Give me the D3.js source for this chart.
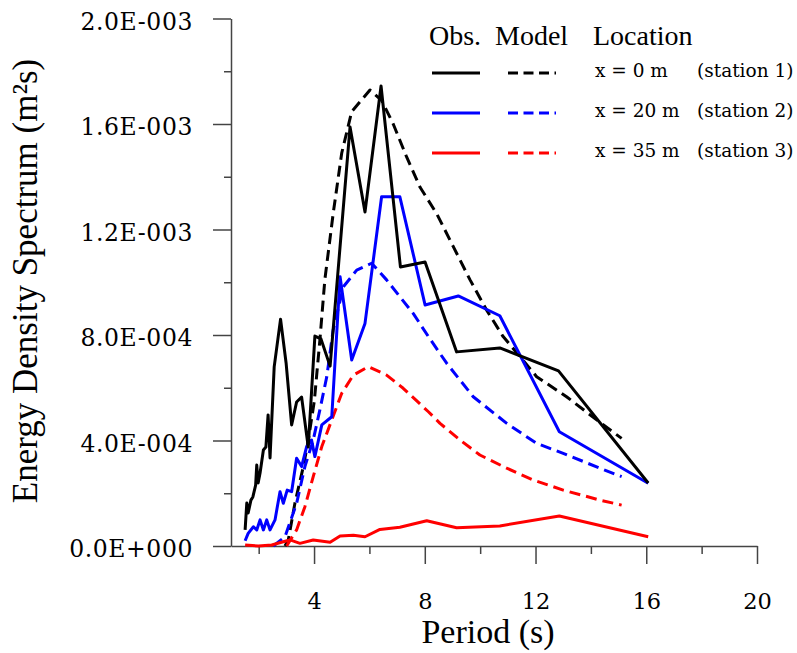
<!DOCTYPE html>
<html>
<head>
<meta charset="utf-8">
<script src="https://d3js.org/d3.v7.min.js"></script>
<style>
  html, body { margin: 0; padding: 0; background: #fff; }
  svg { display: block; }
</style>
</head>
<body>
<svg id="chart" width="797" height="653"></svg>
<script>
// ---------- data (period [s], energy density [m^2 s]) ----------
const obs1 = [
  [1.51, 0.61e-4], [1.57, 1.63e-4], [1.62, 1.25e-4], [1.72, 1.74e-4], [1.79, 1.86e-4],
  [1.89, 2.31e-4], [1.93, 3.07e-4], [1.98, 2.39e-4], [2.05, 2.77e-4], [2.17, 3.64e-4],
  [2.26, 3.75e-4], [2.34, 4.97e-4], [2.41, 3.34e-4], [2.56, 6.79e-4], [2.79, 8.6e-4],
  [2.99, 6.94e-4], [3.19, 4.59e-4], [3.37, 5.46e-4], [3.55, 5.65e-4], [3.79, 3.75e-4],
  [4.03, 7.96e-4], [4.25, 7.85e-4], [4.58, 6.82e-4], [5.30, 1.589e-3], [5.84, 1.266e-3],
  [6.42, 1.744e-3], [7.12, 1.058e-3], [8.01, 1.077e-3], [9.15, 7.36e-4], [10.71, 7.51e-4],
  [12.83, 6.64e-4], [16.07, 2.39e-4]
];
const model1 = [
  [2.95, 0], [3.07, 0.23e-4], [3.31, 1.63e-4], [3.61, 3.0e-4], [3.79, 4.0e-4],
  [4.01, 5.5e-4], [4.21, 7.8e-4], [4.39, 1.01e-3], [4.69, 1.26e-3], [5.0, 1.49e-3],
  [5.36, 1.647e-3], [6.02, 1.729e-3], [6.44, 1.69e-3], [6.86, 1.60e-3], [7.34, 1.476e-3],
  [7.83, 1.36e-3], [8.43, 1.26e-3], [9.03, 1.135e-3], [9.63, 1.01e-3], [10.23, 8.95e-4],
  [10.83, 7.94e-4], [11.44, 7.18e-4], [12.04, 6.42e-4], [13.12, 5.66e-4], [14.21, 4.78e-4],
  [15.11, 4.08e-4]
];
const obs2 = [
  [1.51, 0.20e-4], [1.62, 0.48e-4], [1.81, 0.73e-4], [1.93, 0.61e-4], [2.05, 0.99e-4],
  [2.17, 0.61e-4], [2.29, 0.99e-4], [2.41, 0.61e-4], [2.59, 0.99e-4], [2.77, 2.06e-4],
  [2.89, 1.62e-4], [3.03, 2.12e-4], [3.19, 2.06e-4], [3.37, 3.33e-4], [3.55, 3.01e-4],
  [3.73, 3.76e-4], [3.91, 4.02e-4], [4.03, 3.39e-4], [4.28, 4.59e-4], [4.64, 4.90e-4],
  [4.94, 1.021e-3], [5.36, 7.05e-4], [5.84, 8.44e-4], [6.44, 1.324e-3], [7.10, 1.324e-3],
  [8.01, 9.14e-4], [9.21, 9.48e-4], [10.71, 8.73e-4], [12.86, 4.33e-4], [16.07, 2.38e-4]
];
const model2 = [
  [2.53, 0], [2.95, 0.35e-4], [3.37, 1.62e-4], [3.67, 3.01e-4], [3.97, 4.02e-4],
  [4.21, 5.16e-4], [4.46, 6.42e-4], [4.69, 8.19e-4], [5.06, 9.83e-4], [5.54, 1.046e-3],
  [6.08, 1.072e-3], [6.62, 1.009e-3], [7.10, 9.45e-4], [7.58, 8.82e-4], [8.13, 7.94e-4],
  [8.79, 6.93e-4], [9.75, 5.66e-4], [10.96, 4.65e-4], [12.04, 3.89e-4], [13.0, 3.51e-4],
  [14.33, 2.95e-4], [15.11, 2.63e-4]
];
const obs3 = [
  [1.51, 0.04e-4], [1.99, 0], [2.47, 0.04e-4], [2.89, 0.16e-4], [3.13, 0.23e-4],
  [3.49, 0.10e-4], [3.97, 0.23e-4], [4.58, 0.14e-4], [4.94, 0.38e-4], [5.42, 0.41e-4],
  [5.84, 0.35e-4], [6.38, 0.63e-4], [7.10, 0.71e-4], [8.07, 0.96e-4], [9.15, 0.69e-4],
  [10.71, 0.76e-4], [12.86, 1.14e-4], [16.07, 0.35e-4]
];
const model3 = [
  [3.01, 0], [3.37, 0.61e-4], [3.67, 1.49e-4], [3.97, 2.63e-4], [4.28, 3.77e-4],
  [4.64, 4.78e-4], [5.0, 5.79e-4], [5.42, 6.48e-4], [5.96, 6.80e-4], [6.62, 6.48e-4],
  [7.22, 5.98e-4], [8.13, 5.09e-4], [8.55, 4.65e-4], [9.27, 4.02e-4], [9.99, 3.45e-4],
  [10.96, 2.95e-4], [11.92, 2.50e-4], [13.0, 2.12e-4], [14.33, 1.74e-4], [15.11, 1.55e-4]
];

const xMajorTicks = [4, 8, 12, 16, 20];
const xMinorTicks = [2, 6, 10, 14, 18];
const yMajorTicks = [0, 0.4e-3, 0.8e-3, 1.2e-3, 1.6e-3, 2.0e-3];
const yMinorTicks = [0.2e-3, 0.6e-3, 1.0e-3, 1.4e-3, 1.8e-3];
const yTickLabels = ["0.0E+000", "4.0E-004", "8.0E-004", "1.2E-003", "1.6E-003", "2.0E-003"];

const stations = ["x = 0 m", "x = 20 m", "x = 35 m"];
const stationNames = ["(station 1)", "(station 2)", "(station 3)"];
const colors = ["#000000", "#0000ff", "#ff0000"];

// ---------- drawing ----------
const svg = d3.select("#chart");
const x = d3.scaleLinear().domain([1, 20]).range([231, 757]);
const y = d3.scaleLinear().domain([0, 2e-3]).range([546, 18.5]);

const axisColor = "#444";
const tickFont = "'DejaVu Serif', serif";

// X axis
const gx = svg.append("g").attr("transform", `translate(0,${y(0)})`);
gx.call(d3.axisBottom(x).tickValues(xMinorTicks).tickSize(8).tickSizeOuter(0).tickFormat(""));
gx.call(g => g.select(".domain").remove());
const gx2 = svg.append("g").attr("transform", `translate(0,${y(0)})`);
gx2.call(d3.axisBottom(x).tickValues(xMajorTicks).tickSize(18).tickSizeOuter(0).tickPadding(29)
  .tickFormat(d3.format("d")));
[gx, gx2].forEach(g => {
  g.selectAll("line").attr("stroke", axisColor).attr("stroke-width", 1.5);
  g.selectAll("path").attr("stroke", axisColor).attr("stroke-width", 1.5);
  g.selectAll("text").attr("font-family", tickFont).attr("font-size", 22.5).attr("fill", "#000");
});

// Y axis
const gy = svg.append("g").attr("transform", `translate(${x(1)},0)`);
gy.call(d3.axisLeft(y).tickValues(yMinorTicks).tickSize(7).tickSizeOuter(0).tickFormat(""));
gy.call(g => g.select(".domain").remove());
const gy2 = svg.append("g").attr("transform", `translate(${x(1)},0)`);
gy2.call(d3.axisLeft(y).tickValues(yMajorTicks).tickSize(18).tickSizeOuter(0).tickPadding(20)
  .tickFormat((d, i) => yTickLabels[i]));
[gy, gy2].forEach(g => {
  g.selectAll("line").attr("stroke", axisColor).attr("stroke-width", 1.5);
  g.selectAll("path").attr("stroke", axisColor).attr("stroke-width", 1.5);
  g.selectAll("text").attr("font-family", tickFont).attr("font-size", 23.5)
    .attr("letter-spacing", 0.6).attr("dy", "0.45em").attr("fill", "#000");
});

// Axis titles
svg.append("text")
  .attr("x", 488).attr("y", 643)
  .attr("text-anchor", "middle")
  .attr("font-family", "'Liberation Serif', serif").attr("font-size", 34)
  .text("Period (s)");
svg.append("text")
  .attr("transform", "translate(37,281) rotate(-90)")
  .attr("text-anchor", "middle")
  .attr("font-family", "'Liberation Serif', serif").attr("font-size", 35)
  .text("Energy Density Spectrum (m²s)");

// Lines
const line = d3.line().x(d => x(d[0])).y(d => y(d[1]));
const series = [
  { data: model1, color: colors[0], dash: true },
  { data: model2, color: colors[1], dash: true },
  { data: model3, color: colors[2], dash: true },
  { data: obs3, color: colors[2], dash: false },
  { data: obs2, color: colors[1], dash: false },
  { data: obs1, color: colors[0], dash: false }
];
svg.append("g").selectAll("path").data(series).join("path")
  .attr("d", s => line(s.data))
  .attr("fill", "none")
  .attr("stroke", s => s.color)
  .attr("stroke-width", 3)
  .attr("stroke-linejoin", "round")
  .attr("stroke-dasharray", s => s.dash ? "11,6" : null);

// Legend
const lg = svg.append("g");
const headFont = "'Liberation Serif', serif";
[["Obs.", 429], ["Model", 495], ["Location", 593]].forEach(([t, px]) => {
  lg.append("text").attr("x", px).attr("y", 45)
    .attr("font-family", headFont).attr("font-size", 28).text(t);
});
colors.forEach((c, i) => {
  const ly = 73 + i * 40;
  lg.append("line").attr("x1", 432).attr("x2", 480).attr("y1", ly).attr("y2", ly)
    .attr("stroke", c).attr("stroke-width", 3);
  lg.append("line").attr("x1", 508).attr("x2", 556).attr("y1", ly).attr("y2", ly)
    .attr("stroke", c).attr("stroke-width", 3).attr("stroke-dasharray", "10,5.5");
  lg.append("text").attr("x", 595).attr("y", ly + 4)
    .attr("font-family", tickFont).attr("font-size", 18.5).text(stations[i]);
  lg.append("text").attr("x", 697).attr("y", ly + 4)
    .attr("font-family", tickFont).attr("font-size", 18.5).text(stationNames[i]);
});
</script>
</body>
</html>
